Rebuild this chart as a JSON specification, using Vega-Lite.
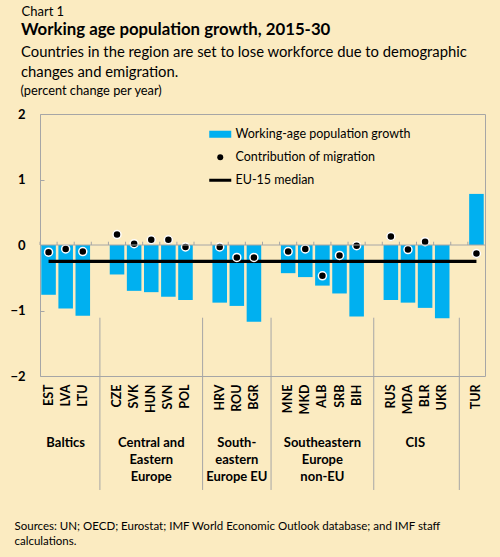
{
  "$schema": "https://vega.github.io/schema/vega-lite/v6.json",
  "description": "Working age population growth, 2015-30",
  "width": 445,
  "height": 262,
  "autosize": {"type": "none"},
  "padding": {"left": 40, "top": 114, "right": 15, "bottom": 181},
  "background": "#FBEBC1",
  "config": {
    "font": "Lato",
    "view": {"fill": "white", "stroke": "#A6A6A6", "strokeWidth": 1},
    "axis": {"labelColor": "#000000", "titleColor": "#000000", "grid": false}
  },
  "title": {
    "text": "Working age population growth, 2015-30",
    "subtitle": [
      "Countries in the region are set to lose workforce due to demographic",
      "changes and emigration."
    ],
    "anchor": "start",
    "frame": "group",
    "dx": -19,
    "offset": -75,
    "fontSize": 16.8,
    "fontWeight": "bold",
    "color": "#000000",
    "subtitleFontSize": 14.8,
    "subtitleColor": "#000000",
    "subtitleLineHeight": 20,
    "subtitlePadding": 6
  },
  "datasets": {
    "slots": [
      {"country": "EST", "growth": -0.76, "migration": -0.11},
      {"country": "LVA", "growth": -0.97, "migration": -0.06},
      {"country": "LTU", "growth": -1.08, "migration": -0.10},
      {"country": "_1"},
      {"country": "CZE", "growth": -0.45, "migration": 0.16},
      {"country": "SVK", "growth": -0.70, "migration": 0.02},
      {"country": "HUN", "growth": -0.72, "migration": 0.08},
      {"country": "SVN", "growth": -0.79, "migration": 0.08},
      {"country": "POL", "growth": -0.84, "migration": -0.03},
      {"country": "_2"},
      {"country": "HRV", "growth": -0.88, "migration": -0.03},
      {"country": "ROU", "growth": -0.93, "migration": -0.19},
      {"country": "BGR", "growth": -1.17, "migration": -0.19},
      {"country": "_3"},
      {"country": "MNE", "growth": -0.43, "migration": -0.10},
      {"country": "MKD", "growth": -0.49, "migration": -0.06},
      {"country": "ALB", "growth": -0.62, "migration": -0.47},
      {"country": "SRB", "growth": -0.74, "migration": -0.16},
      {"country": "BIH", "growth": -1.09, "migration": -0.01},
      {"country": "_4"},
      {"country": "RUS", "growth": -0.84, "migration": 0.13},
      {"country": "MDA", "growth": -0.88, "migration": -0.07},
      {"country": "BLR", "growth": -0.96, "migration": 0.05},
      {"country": "UKR", "growth": -1.12, "migration": null},
      {"country": "_5"},
      {"country": "TUR", "growth": 0.78, "migration": -0.13}
    ],
    "groups": [
      {"group": "Baltics", "label": "Baltics", "anchor": "LVA", "sep": "_1"},
      {"group": "CEE", "label": "Central and\nEastern\nEurope", "anchor": "HUN", "sep": "_2"},
      {"group": "SEE EU", "label": "South-\neastern\nEurope EU", "anchor": "ROU", "sep": "_3"},
      {"group": "SEE non-EU", "label": "Southeastern\nEurope\nnon-EU", "anchor": "ALB", "sep": "_4"},
      {"group": "CIS", "label": "CIS", "anchor": "MDA", "sep": "_5"}
    ],
    "median": [{"median": -0.25}],
    "baseline": [{"value": 0}],
    "legend": [
      {"series": "Working-age population growth"},
      {"series": "Contribution of migration"},
      {"series": "EU-15 median"}
    ]
  },
  "layer": [
    {
      "layer": [
        {
          "data": {"name": "slots"},
          "mark": {"type": "rule", "color": "#A6A6A6", "strokeWidth": 1},
          "encoding": {
            "x": {"field": "country", "type": "nominal", "bandPosition": -0.09},
            "y": {"datum": 0, "type": "quantitative"},
            "y2": {"datum": 0.05}
          }
        },
        {
          "data": {"name": "slots"},
          "mark": {"type": "bar", "color": "#00B0F0"},
          "encoding": {
            "x": {
              "field": "country",
              "type": "nominal",
              "sort": null,
              "scale": {
                "domain": ["EST", "LVA", "LTU", "_1", "CZE", "SVK", "HUN", "SVN", "POL", "_2", "HRV", "ROU", "BGR", "_3", "MNE", "MKD", "ALB", "SRB", "BIH", "_4", "RUS", "MDA", "BLR", "UKR", "_5", "TUR"],
                "paddingInner": 0.15,
                "paddingOuter": 0.075
              },
              "axis": {
                "values": ["EST", "LVA", "LTU", "CZE", "SVK", "HUN", "SVN", "POL", "HRV", "ROU", "BGR", "MNE", "MKD", "ALB", "SRB", "BIH", "RUS", "MDA", "BLR", "UKR", "TUR"],
                "labelAngle": -90,
                "labelFontWeight": "bold",
                "labelFontSize": 12.5,
                "labelPadding": 8,
                "ticks": false,
                "domain": false,
                "title": [
                  "Sources:  UN; OECD; Eurostat; IMF World Economic Outlook database; and IMF staff",
                  "calculations."
                ],
                "titleFontSize": 11.5,
                "titleFontWeight": "normal",
                "titleLineHeight": 15,
                "titleAlign": "left",
                "titleAnchor": "start",
                "titleBaseline": "alphabetic",
                "titleX": -26,
                "titleY": 153
              }
            },
            "y": {
              "field": "growth",
              "type": "quantitative",
              "scale": {"domain": [-2, 2], "nice": false},
              "axis": {
                "values": [-2, -1, 0, 1, 2],
                "format": "d",
                "labelFontWeight": "bold",
                "labelFontSize": 13,
                "labelPadding": 19,
                "tickSize": -4,
                "tickColor": "#A6A6A6",
                "domain": false,
                "title": "(percent change per year)",
                "titleAngle": 0,
                "titleAlign": "left",
                "titleBaseline": "alphabetic",
                "titleX": -20,
                "titleY": -20,
                "titleFontSize": 12.8,
                "titleFontWeight": "normal"
              }
            }
          }
        },
        {
          "data": {"name": "median"},
          "mark": {"type": "rule", "color": "#000000", "strokeWidth": 3.3},
          "encoding": {
            "x": {"datum": "EST", "bandPosition": 0.5},
            "x2": {"datum": "TUR", "bandPosition": 0.5},
            "y": {"field": "median", "type": "quantitative"}
          }
        },
        {
          "data": {"name": "slots"},
          "mark": {"type": "point", "filled": true, "color": "#000000", "opacity": 1, "size": 64, "stroke": "#FFFFFF", "strokeWidth": 1.5},
          "encoding": {
            "x": {"field": "country", "type": "nominal"},
            "y": {"field": "migration", "type": "quantitative"}
          }
        },
        {
          "data": {"name": "groups"},
          "mark": {"type": "rule", "color": "#A6A6A6", "strokeWidth": 1},
          "encoding": {
            "x": {"field": "sep", "type": "nominal"},
            "y": {"datum": -1.11, "type": "quantitative"},
            "y2": {"datum": -3.74}
          }
        },
        {
          "data": {"name": "groups"},
          "transform": [{"filter": "datum.group !== 'CIS'"}],
          "mark": {"type": "text", "font": "Lato", "fontSize": 13, "fontWeight": "bold", "color": "#000000", "align": "center", "baseline": "top", "lineBreak": "\n", "lineHeight": 17},
          "encoding": {
            "x": {"field": "anchor", "type": "nominal", "bandPosition": 0.5},
            "y": {"datum": -2.93, "type": "quantitative"},
            "text": {"field": "label"}
          }
        },
        {
          "data": {"name": "groups"},
          "transform": [{"filter": "datum.group === 'CIS'"}],
          "mark": {"type": "text", "font": "Lato", "fontSize": 13, "fontWeight": "bold", "color": "#000000", "align": "center", "baseline": "top", "lineBreak": "\n", "lineHeight": 17},
          "encoding": {
            "x": {"field": "anchor", "type": "nominal", "bandPosition": 1},
            "y": {"datum": -2.93, "type": "quantitative"},
            "text": {"field": "label"}
          }
        },
        {
          "data": {"name": "legend"},
          "mark": {"type": "point", "filled": true, "opacity": 0},
          "encoding": {
            "color": {
              "field": "series",
              "type": "nominal",
              "scale": {
                "domain": ["Working-age population growth", "Contribution of migration", "EU-15 median"],
                "range": ["#00B0F0", "#000000", "#000000"]
              },
              "legend": {
                "orient": "none",
                "legendX": 174,
                "legendY": 14,
                "title": null,
                "padding": 0,
                "labelFont": "Lato",
                "labelFontSize": 12.5,
                "labelColor": "#000000",
                "labelLimit": 300,
                "labelOffset": 9,
                "rowPadding": 10,
                "symbolSize": 36,
                "symbolStrokeWidth": 0,
                "symbolOpacity": 1,
                "encode": {
                  "symbols": {
                    "update": {
                      "opacity": {"value": 1},
                      "fillOpacity": {"value": 1}
                    }
                  }
                }
              }
            },
            "shape": {
              "field": "series",
              "type": "nominal",
              "scale": {
                "domain": ["Working-age population growth", "Contribution of migration", "EU-15 median"],
                "range": ["M-3.67,-1.17H3.67V1.17H-3.67Z", "circle", "M-3.67,-0.5H3.67V0.5H-3.67Z"]
              }
            }
          }
        }
      ]
    },
    {
      "data": {"name": "baseline"},
      "mark": {"type": "rule", "color": "#A6A6A6", "strokeWidth": 1},
      "encoding": {
        "y": {
          "field": "value",
          "type": "quantitative",
          "axis": {
            "orient": "right",
            "labels": false,
            "ticks": false,
            "domain": false,
            "grid": false,
            "title": "Chart 1",
            "titleAngle": 0,
            "titleAlign": "left",
            "titleBaseline": "alphabetic",
            "titleX": -464,
            "titleY": -99,
            "titleFontSize": 13,
            "titleFontWeight": "normal"
          }
        }
      }
    }
  ],
  "resolve": {"axis": {"y": "independent"}}
}
